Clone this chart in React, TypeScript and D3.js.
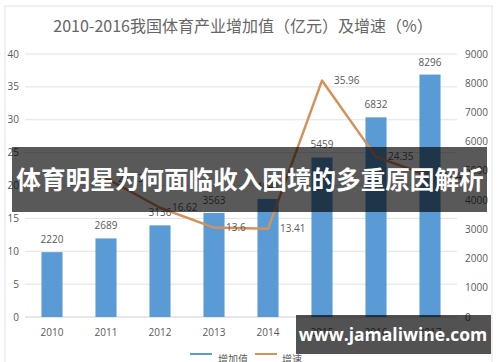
import React from "react";
import * as d3 from "d3";

const years = ["2010", "2011", "2012", "2013", "2014", "2015", "2016", "2017"];
const addedValue = [2220, 2689, 3136, 3563, 4041, 5459, 6832, 8296];
const growthYears = ["2011", "2012", "2013", "2014", "2015", "2016", "2017"];
const growthRate = [21.13, 16.62, 13.6, 13.41, 35.96, 24.35, 21.4];
const leftTicks = [0, 5, 10, 15, 20, 25, 30, 35, 40];
const rightTicks = [0, 1000, 2000, 3000, 4000, 5000, 6000, 7000, 8000, 9000];
const titleText = "2010-2016我国体育产业增加值（亿元）及增速（%）";
const bannerText = "体育明星为何面临收入困境的多重原因解析";
const watermarkText = "www.jamaliwine.com";
const legendLabels = ["增加值", "增速"];

const W = 500;
const H = 362;
const plot = { left: 25, right: 457, top: 54, bottom: 317 };
const FONT = "'Noto Sans CJK SC', 'Noto Sans', sans-serif";
const NUMFONT = "'Open Sans', 'Noto Sans', sans-serif";
const GRAY = "#595959";

export default function App() {
  const x = d3.scaleBand<string>().domain(years).range([plot.left, plot.right]).paddingInner(0.61).paddingOuter(0.305);
  const yL = d3.scaleLinear().domain([0, 40]).range([plot.bottom, plot.top]);
  const yR = d3.scaleLinear().domain([0, 9000]).range([plot.bottom, plot.top]);
  const cx = (yr: string) => (x(yr) as number) + x.bandwidth() / 2;
  const line = d3
    .line<number>()
    .x((_, i) => cx(growthYears[i]))
    .y((d) => yL(d));

  return (
    <svg width={W} height={H} style={{ position: "absolute", left: 0, top: 0, background: "#fff" }}>
      <rect x={5} y={6} width={487} height={H} fill="#fff" stroke="#e3e3e3" />
      <text x={243} y={32} textAnchor="middle" fontFamily={FONT} fontSize={16} fill="#666">
        {titleText}
      </text>
      {leftTicks.map((t) => (
        <g key={"l" + t}>
          <line x1={plot.left} x2={plot.right} y1={yL(t)} y2={yL(t)} stroke={t === 0 ? "#d0d0d0" : "#e2e2e2"} strokeWidth={1} />
          <text x={19} y={yL(t)} dy="0.35em" textAnchor="end" fontFamily={NUMFONT} fontSize={10} fill={GRAY}>
            {t}
          </text>
        </g>
      ))}
      {rightTicks.map((t) => (
        <text key={"r" + t} x={465} y={yR(t)} dy="0.35em" textAnchor="start" fontFamily={NUMFONT} fontSize={10} fill={GRAY}>
          {t}
        </text>
      ))}
      {years.map((yr, i) => (
        <g key={yr}>
          <rect x={x(yr)} y={yR(addedValue[i])} width={x.bandwidth()} height={plot.bottom - yR(addedValue[i])} fill="#5B9BD5" />
          <text x={cx(yr)} y={yR(addedValue[i]) - 9} textAnchor="middle" fontFamily={NUMFONT} fontSize={10} fill={GRAY}>
            {addedValue[i]}
          </text>
          <text x={cx(yr)} y={332} dy="0.35em" textAnchor="middle" fontFamily={NUMFONT} fontSize={10} fill={GRAY}>
            {yr}
          </text>
        </g>
      ))}
      <path d={line(growthRate) || ""} fill="none" stroke="#D4915A" strokeWidth={2.5} strokeLinejoin="round" />
      {growthRate.map((v, i) => (
        <text key={"g" + i} x={cx(growthYears[i]) + 12} y={yL(v)} dy="0.35em" textAnchor="start" fontFamily={NUMFONT} fontSize={10} fill={GRAY}>
          {v}
        </text>
      ))}
      <g>
        <line x1={190} x2={212} y1={354} y2={354} stroke="#5B9BD5" strokeWidth={2} />
        <text x={218} y={359} dy="0.35em" fontFamily={FONT} fontSize={10} fill={GRAY}>
          {legendLabels[0]}
        </text>
        <line x1={255} x2={277} y1={354} y2={354} stroke="#D4915A" strokeWidth={2} />
        <text x={282} y={359} dy="0.35em" fontFamily={FONT} fontSize={10} fill={GRAY}>
          {legendLabels[1]}
        </text>
      </g>
      <rect x={12} y={147} width={475} height={65} fill="#000" fillOpacity={0.65} />
      <text x={250} y={180} dy="0.36em" textAnchor="middle" fontFamily={FONT} fontWeight={700} fontSize={24.6} fill="#fff">
        {bannerText}
      </text>
      <rect x={296} y={315} width={195} height={39} fill="#000" fillOpacity={0.68} />
      <text x={393} y={335} dy="0.36em" textAnchor="middle" fontFamily={"'Open Sans', 'Noto Sans', sans-serif"} fontWeight={700} fontSize={17.5} fill="#fff">
        {watermarkText}
      </text>
    </svg>
  );
}
